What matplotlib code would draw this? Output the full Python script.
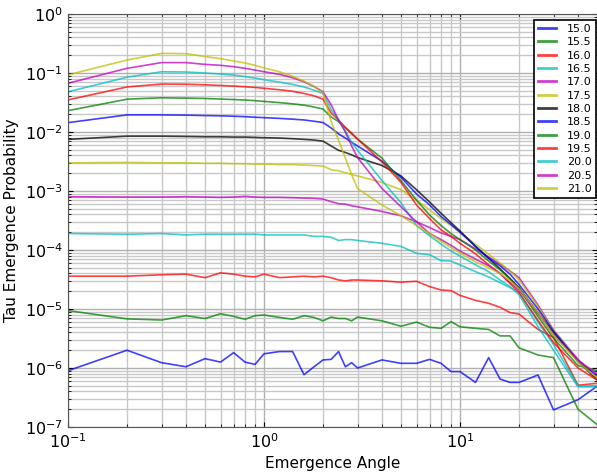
import numpy as np
import matplotlib
matplotlib.use("Agg")
import matplotlib.pyplot as plt

# emergence angles (deg)
angles = [0.1, 0.2, 0.3, 0.4, 0.5, 0.6, 0.7, 0.8, 0.9, 1.0,
          1.2, 1.4, 1.6, 1.8, 2.0, 2.2, 2.4, 2.6, 2.8, 3.0,
          4, 5, 6, 7, 8, 9, 10, 12, 14, 16, 18, 20, 25, 30, 40, 50]

labels = ["15.0", "15.5", "16.0", "16.5", "17.0", "17.5", "18.0",
          "18.5", "19.0", "19.5", "20.0", "20.5", "21.0"]

p150 = [9e-7, 2.0e-6, 1.23e-6, 1.05e-6, 1.44e-6, 1.26e-6, 1.82e-6, 1.26e-6, 1.15e-6, 1.74e-6,
        1.9e-6, 1.9e-6, 7.7e-7, 1.05e-6, 1.37e-6, 1.4e-6, 1.9e-6, 1.05e-6, 1.23e-6, 1.0e-6,
        1.37e-6, 1.2e-6, 1.2e-6, 1.4e-6, 1.2e-6, 8.7e-7, 8.7e-7, 5.7e-7, 1.5e-6, 6.5e-7,
        5.7e-7, 5.7e-7, 7.6e-7, 1.95e-7, 2.9e-7, 4.9e-7]
p155 = [9.4e-6, 6.8e-6, 6.5e-6, 7.7e-6, 6.9e-6, 8.3e-6, 7.5e-6, 6.7e-6, 7.7e-6, 7.9e-6,
        7.2e-6, 6.7e-6, 7.7e-6, 7.2e-6, 6.3e-6, 7.3e-6, 6.9e-6, 6.9e-6, 6.3e-6, 7.3e-6,
        6.3e-6, 5.1e-6, 6.0e-6, 4.9e-6, 4.7e-6, 6.1e-6, 5.0e-6, 4.7e-6, 4.5e-6, 3.5e-6,
        3.5e-6, 2.2e-6, 1.66e-6, 1.5e-6, 2.0e-7, 1.1e-7]
p160 = [3.6e-5, 3.6e-5, 3.8e-5, 3.9e-5, 3.4e-5, 4.1e-5, 3.9e-5, 3.6e-5, 3.5e-5, 3.9e-5,
        3.4e-5, 3.5e-5, 3.6e-5, 3.5e-5, 3.6e-5, 3.4e-5, 3.1e-5, 3.0e-5, 3.1e-5, 3.1e-5,
        3.0e-5, 2.85e-5, 2.95e-5, 2.4e-5, 2.1e-5, 2.05e-5, 1.7e-5, 1.4e-5, 1.25e-5, 1.07e-5,
        8.7e-6, 8.2e-6, 4.5e-6, 3.3e-6, 5.1e-7, 5.5e-7]
p165 = [1.9e-4, 1.85e-4, 1.9e-4, 1.8e-4, 1.85e-4, 1.85e-4, 1.85e-4, 1.85e-4, 1.85e-4, 1.8e-4,
        1.8e-4, 1.8e-4, 1.8e-4, 1.7e-4, 1.7e-4, 1.65e-4, 1.45e-4, 1.5e-4, 1.5e-4, 1.45e-4,
        1.3e-4, 1.15e-4, 8.8e-5, 8.3e-5, 6.6e-5, 6.5e-5, 5.6e-5, 4.3e-5, 3.5e-5, 2.8e-5,
        2.3e-5, 1.9e-5, 6e-6, 2.5e-6, 5e-7, 5e-7]
p170 = [8.0e-4, 7.9e-4, 7.9e-4, 8.0e-4, 7.9e-4, 7.8e-4, 7.9e-4, 8.1e-4, 7.9e-4, 7.8e-4,
        7.8e-4, 7.7e-4, 7.6e-4, 7.5e-4, 7.3e-4, 6.6e-4, 6.1e-4, 6.0e-4, 5.6e-4, 5.4e-4,
        4.5e-4, 3.8e-4, 3.0e-4, 2.4e-4, 1.95e-4, 1.7e-4, 1.5e-4, 1.05e-4, 7.6e-5, 5.8e-5,
        4.4e-5, 3.4e-5, 1.17e-5, 4.4e-6, 1.4e-6, 6.8e-7]
p175 = [3.0e-3, 3.05e-3, 3.0e-3, 3.0e-3, 2.95e-3, 2.95e-3, 2.9e-3, 2.9e-3, 2.85e-3, 2.85e-3,
        2.8e-3, 2.8e-3, 2.75e-3, 2.7e-3, 2.65e-3, 2.3e-3, 2.2e-3, 2.05e-3, 1.9e-3, 1.8e-3,
        1.4e-3, 1.05e-3, 7e-4, 4.8e-4, 3.4e-4, 2.6e-4, 2.0e-4, 1.25e-4, 8.5e-5, 6.0e-5,
        4.4e-5, 3.1e-5, 1.1e-5, 4.4e-6, 1.3e-6, 6.8e-7]
p180 = [7.5e-3, 8.5e-3, 8.5e-3, 8.4e-3, 8.3e-3, 8.3e-3, 8.2e-3, 8.2e-3, 8.1e-3, 8.0e-3,
        7.9e-3, 7.7e-3, 7.5e-3, 7.3e-3, 7.0e-3, 5.8e-3, 4.9e-3, 4.5e-3, 4.1e-3, 3.7e-3,
        2.7e-3, 1.8e-3, 1.05e-3, 6.5e-4, 4.2e-4, 2.9e-4, 2.1e-4, 1.15e-4, 7.2e-5, 4.8e-5,
        3.3e-5, 2.3e-5, 8.5e-6, 4.0e-6, 1.3e-6, 6.3e-7]
p185 = [1.44e-2, 1.95e-2, 1.95e-2, 1.93e-2, 1.9e-2, 1.88e-2, 1.85e-2, 1.82e-2, 1.78e-2, 1.75e-2,
        1.7e-2, 1.65e-2, 1.6e-2, 1.52e-2, 1.45e-2, 1.17e-2, 9.3e-3, 7.9e-3, 6.7e-3, 5.8e-3,
        3.2e-3, 1.7e-3, 8.9e-4, 5.8e-4, 3.7e-4, 2.7e-4, 2.0e-4, 1.15e-4, 7.3e-5, 5.4e-5,
        3.9e-5, 2.6e-5, 1.0e-5, 4.2e-6, 1.3e-6, 7.5e-7]
p190 = [2.3e-2, 3.6e-2, 3.8e-2, 3.75e-2, 3.7e-2, 3.62e-2, 3.55e-2, 3.48e-2, 3.4e-2, 3.3e-2,
        3.15e-2, 3.0e-2, 2.85e-2, 2.65e-2, 2.45e-2, 1.8e-2, 1.5e-2, 1.17e-2, 9.3e-3, 7.6e-3,
        3.6e-3, 1.5e-3, 7e-4, 3.9e-4, 2.6e-4, 1.9e-4, 1.5e-4, 1.0e-4, 6.5e-5, 4.6e-5,
        3.2e-5, 2.2e-5, 7.5e-6, 3.2e-6, 1.1e-6, 9e-7]
p195 = [3.5e-2, 5.8e-2, 6.5e-2, 6.45e-2, 6.3e-2, 6.15e-2, 6.0e-2, 5.85e-2, 5.7e-2, 5.5e-2,
        5.2e-2, 4.9e-2, 4.5e-2, 4.1e-2, 3.6e-2, 2.1e-2, 1.6e-2, 1.2e-2, 9.6e-3, 7.6e-3,
        3.1e-3, 1.4e-3, 5.8e-4, 3.4e-4, 2.2e-4, 1.7e-4, 1.3e-4, 8.6e-5, 5.6e-5, 4.0e-5,
        2.7e-5, 1.9e-5, 6.4e-6, 2.7e-6, 1.0e-6, 6.3e-7]
p200 = [4.8e-2, 8.5e-2, 0.105, 0.104, 0.1, 0.096, 0.092, 0.087, 0.082, 0.077,
        0.07, 0.064, 0.058, 0.051, 0.045, 2.4e-2, 1.6e-2, 1.04e-2, 6.7e-3, 4.9e-3,
        1.5e-3, 6.3e-4, 2.6e-4, 1.74e-4, 1.26e-4, 9.6e-5, 7.9e-5, 5.6e-5, 4.3e-5, 3.1e-5,
        2.4e-5, 1.75e-5, 5e-6, 2.0e-6, 4.8e-7, 4.8e-7]
p205 = [6.7e-2, 0.12, 0.15, 0.15, 0.14, 0.135, 0.128, 0.12, 0.112, 0.105,
        0.095, 0.083, 0.071, 0.059, 0.048, 2.9e-2, 1.6e-2, 1.0e-2, 5.8e-3, 3.7e-3,
        1.1e-3, 5.4e-4, 3.0e-4, 1.9e-4, 1.5e-4, 1.2e-4, 9.6e-5, 7.0e-5, 5.4e-5, 4.0e-5,
        2.8e-5, 2.1e-5, 8.7e-6, 3.6e-6, 1.35e-6, 8e-7]
p210 = [9.3e-2, 0.166, 0.215, 0.213, 0.19, 0.175, 0.16, 0.148, 0.135, 0.122,
        0.105, 0.088, 0.073, 0.059, 0.046, 1.5e-2, 7.3e-3, 3.6e-3, 1.9e-3, 1.1e-3,
        5.8e-4, 3.8e-4, 2.6e-4, 1.9e-4, 1.4e-4, 1.1e-4, 8.9e-5, 6.3e-5, 5.0e-5, 4.0e-5,
        3.0e-5, 2.2e-5, 8.7e-6, 3.6e-6, 1.26e-6, 6.8e-7]

series = [p150, p155, p160, p165, p170, p175, p180,
          p185, p190, p195, p200, p205, p210]
colors = ["b", "g", "r", "c", "m", "y", "k"]
classic = {"b": (0, 0, 1), "g": (0, 0.5, 0), "r": (1, 0, 0), "c": (0, 0.75, 0.75),
           "m": (0.75, 0, 0.75), "y": (0.75, 0.75, 0), "k": (0, 0, 0)}

fig = plt.figure(figsize=(5.97, 4.74), dpi=100)
ax = fig.add_axes([68 / 597, 47 / 474, 529 / 597, 413 / 474])

for i, (vals, lab) in enumerate(zip(series, labels)):
    ax.plot(angles, vals, color=classic[colors[i % 7]], alpha=0.75, lw=1.2, label=lab)

ax.set_xscale("log")
ax.set_yscale("log")
ax.set_xlim(0.1, 50)
ax.set_ylim(1e-7, 1)
ax.grid(True, which="major", color="#b0b0b0", lw=1.0)
ax.grid(True, which="minor", color="#c8c8c8", lw=1.0)
ax.set_axisbelow(True)
ax.tick_params(which="both", direction="in", top=True, right=True, labelsize=11.5)
for s in ax.spines.values():
    s.set_color("#555555")

ax.set_xlabel("Emergence Angle", fontsize=11)
ax.set_ylabel("Tau Emergence Probability", fontsize=11)

leg = ax.legend(loc="upper right", bbox_to_anchor=(1 - 1.5 / 529, 1 - 6 / 413),
                borderaxespad=0, fontsize=8, fancybox=False, framealpha=1,
                handlelength=1.6, handletextpad=1.0, labelspacing=0.3,
                borderpad=0.35)
leg.get_frame().set_edgecolor("black")
leg.get_frame().set_linewidth(1.2)
for h in leg.get_lines():
    h.set_linewidth(2.0)

fig.savefig("out.png", dpi=100)
